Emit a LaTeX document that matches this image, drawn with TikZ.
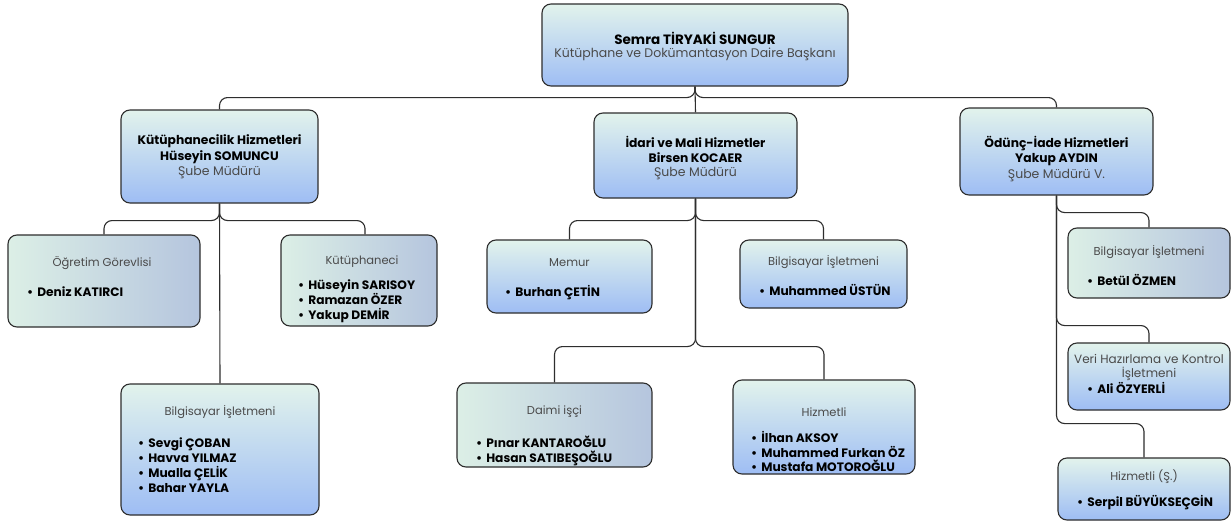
\documentclass[tikz,border=0pt]{standalone}
\usepackage{fontspec}
\setmainfont{Poppins}
\definecolor{gtop}{HTML}{E2F3EC}
\definecolor{gbot}{HTML}{9EBDF4}
\definecolor{hleft}{HTML}{DCEFE6}
\definecolor{hright}{HTML}{B5C5DE}
\definecolor{edge}{HTML}{2E2E2E}
\definecolor{txtgray}{HTML}{4A4A4A}
\begin{document}
\begin{tikzpicture}[x=1pt,y=-1pt,
  vbox/.style={draw=edge, line width=1.1pt, rounded corners=9pt, top color=gtop, bottom color=gbot, inner sep=0pt},
  hbox/.style={draw=edge, line width=1.1pt, rounded corners=9pt, left color=hleft, right color=hright, inner sep=0pt},
  conn/.style={draw=edge, line width=1.1pt, rounded corners=8pt},
  hd/.style={inner sep=0pt, text=black, font=\fontsize{12.3}{14}\selectfont\bfseries},
  sub/.style={inner sep=0pt, text=txtgray, font=\fontsize{12.5}{14}\selectfont},
  ttl/.style={inner sep=0pt, text=txtgray, font=\fontsize{11.5}{14.5}\selectfont, align=center,
    execute at begin node={\lineskiplimit=-20pt}},
  nm/.style={inner sep=0pt, anchor=west, text=black, font=\fontsize{12.2}{14.8}\selectfont\bfseries, align=left,
    execute at begin node={\lineskiplimit=-20pt}}]
\useasboundingbox (0,0) rectangle (1232,522);
\fill[white] (0,0) rectangle (1232,522);

% boxes
\node[vbox, minimum width=306pt, minimum height=82pt] (top) at (695,45) {};
\node[vbox, minimum width=197pt, minimum height=93pt] (lb) at (219.5,156.5) {};
\node[vbox, minimum width=203pt, minimum height=85pt] (mb) at (695.5,155.5) {};
\node[vbox, minimum width=193pt, minimum height=87pt] (rb) at (1056.5,151.5) {};
\node[hbox, minimum width=192pt, minimum height=92pt] (og) at (104,281) {};
\node[hbox, minimum width=156pt, minimum height=91pt] (kt) at (359,280.5) {};
\node[vbox, minimum width=198pt, minimum height=131pt] (bl) at (220,449.5) {};
\node[vbox, minimum width=165pt, minimum height=73pt] (me) at (569.5,276.5) {};
\node[vbox, minimum width=167pt, minimum height=68pt] (bm) at (823.5,274) {};
\node[hbox, minimum width=195pt, minimum height=84pt] (di) at (554.5,425) {};
\node[vbox, minimum width=182pt, minimum height=94pt] (hz) at (824,427) {};
\node[hbox, minimum width=162pt, minimum height=70pt] (bs) at (1149,263) {};
\node[vbox, minimum width=162pt, minimum height=67pt] (vh) at (1149,376.5) {};
\node[vbox, minimum width=172pt, minimum height=62pt] (hs) at (1144,489) {};

% connectors
\draw[conn] (top.south) -- ++(0,11) -| (lb.north);
\draw[conn] (top.south) -- ++(0,11) -| (rb.north);
\draw[conn] (top.south) -- (mb.north);
\draw[conn] (lb.south) -- ++(0,17) -| (og.north);
\draw[conn] (lb.south) -- ++(0,17) -| ([xshift=6pt]kt.north);
\draw[conn] (lb.south) -- (bl.north);
\draw[conn] (mb.south) -- ++(0,22) -| (me.north);
\draw[conn] (mb.south) -- ++(0,22) -| (bm.north);
\draw[conn] (mb.south) -- ++(0,148) -| (di.north);
\draw[conn] (mb.south) -- ++(0,148) -| (hz.north);
\draw[conn] (rb.south) -- ++(0,17) -| (bs.north);
\draw[conn] (rb.south) -- ++(0,130) -| (vh.north);
\draw[conn] (rb.south) -- ++(0,228) -| (hs.north);

% texts: top
\node[hd, font=\fontsize{13.5}{15}\selectfont\bfseries] (top-a) at (695,38) {Semra TİRYAKİ SUNGUR};
\node[sub, font=\fontsize{12.5}{15}\selectfont] (top-b) at (695,54) {Kütüphane ve Dokümantasyon Daire Başkanı};
% branch heads
\node[hd] (lb-a) at (219.5,141) {Kütüphanecilik Hizmetleri};
\node[hd] (lb-b) at (219.5,157) {Hüseyin SOMUNCU};
\node[sub] (lb-c) at (219.5,173) {Şube Müdürü};
\node[hd] (mb-a) at (695.5,142) {İdari ve Mali Hizmetler};
\node[hd] (mb-b) at (695.5,158) {Birsen KOCAER};
\node[sub] (mb-c) at (695.5,174) {Şube Müdürü};
\node[hd] (rb-a) at (1056.5,144) {Ödünç-İade Hizmetleri};
\node[hd] (rb-b) at (1056.5,160) {Yakup AYDIN};
\node[sub] (rb-c) at (1056.5,176) {Şube Müdürü V.};
% leaves
\node[ttl] (og-t) at (102,263) {Öğretim Görevlisi};
\node[nm] (og-n) at (27,292) {•\hspace{4pt}Deniz KATIRCI};
\node[ttl] (kt-t) at (362,262) {Kütüphaneci};
\node[nm] (kt-n) at (298,301) {•\hspace{4pt}Hüseyin SARISOY\\•\hspace{4pt}Ramazan ÖZER\\•\hspace{4pt}Yakup DEMİR};
\node[ttl] (bl-t) at (220,412) {Bilgisayar İşletmeni};
\node[nm] (bl-n) at (138,465) {•\hspace{4pt}Sevgi ÇOBAN\\•\hspace{4pt}Havva YILMAZ\\•\hspace{4pt}Mualla ÇELİK\\•\hspace{4pt}Bahar YAYLA};
\node[ttl] (me-t) at (569.5,263) {Memur};
\node[nm] (me-n) at (505,293) {•\hspace{4pt}Burhan ÇETİN};
\node[ttl] (bm-t) at (823.5,262) {Bilgisayar İşletmeni};
\node[nm] (bm-n) at (759,290) {•\hspace{4pt}Muhammed ÜSTÜN};
\node[ttl] (di-t) at (554.5,412) {Daimi işçi};
\node[nm] (di-n) at (476,451) {•\hspace{4pt}Pınar KANTAROĞLU\\•\hspace{4pt}Hasan SATIBEŞOĞLU};
\node[ttl] (hz-t) at (824,412) {Hizmetli};
\node[nm] (hz-n) at (751,451.5) {•\hspace{4pt}İlhan AKSOY\\•\hspace{4pt}Muhammed Furkan ÖZ\\•\hspace{4pt}Mustafa MOTOROĞLU};
\node[ttl] (bs-t) at (1149,252) {Bilgisayar İşletmeni};
\node[nm] (bs-n) at (1087,280) {•\hspace{4pt}Betül ÖZMEN};
\node[ttl, font=\fontsize{12}{14.5}\selectfont] (vh-t) at (1149,367.5) {Veri Hazırlama ve Kontrol\\İşletmeni};
\node[nm] (vh-n) at (1087,388) {•\hspace{4pt}Ali ÖZYERLİ};
\node[ttl] (hs-t) at (1144,477) {Hizmetli (Ş.)};
\node[nm] (hs-n) at (1077,503) {•\hspace{4pt}Serpil BÜYÜKSEÇGİN};
\end{tikzpicture}
\end{document}
